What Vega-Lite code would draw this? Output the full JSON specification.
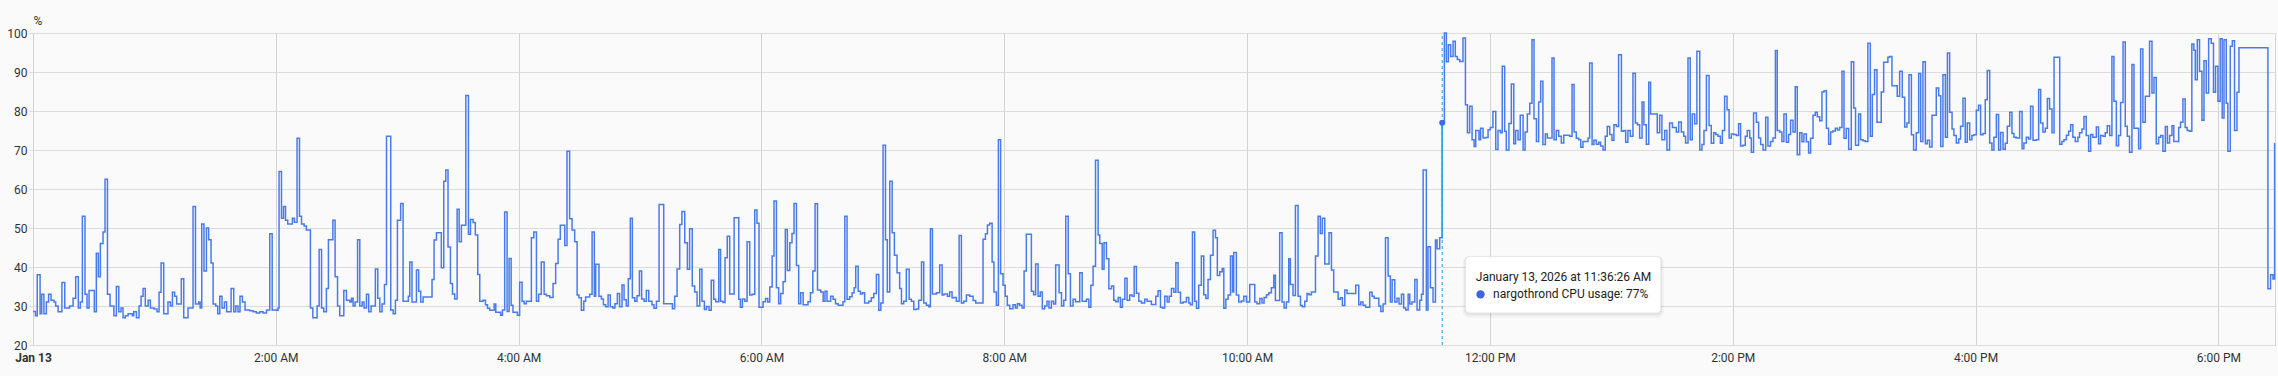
{
"$schema": "https://vega.github.io/schema/vega-lite/v6.json",
"autosize": {"type": "none"},
"padding": {"left": 33, "top": 33, "right": 3, "bottom": 31},
"width": 2242,
"height": 312,
"background": "#fafafa",
"config": {"font": "Roboto", "view": {"stroke": "#d4d4d4"}},
"data": {"values": [
{"t":"2026-01-13T00:00:00","v":28.6},{"t":"2026-01-13T00:01:12","v":27.5},{"t":"2026-01-13T00:02:06","v":38},{"t":"2026-01-13T00:03:30","v":28},{"t":"2026-01-13T00:04:18","v":33},{"t":"2026-01-13T00:05:24","v":28},{"t":"2026-01-13T00:06:36","v":31},{"t":"2026-01-13T00:07:42","v":33},{"t":"2026-01-13T00:08:54","v":31.5},{"t":"2026-01-13T00:10:24","v":31},{"t":"2026-01-13T00:11:12","v":30},{"t":"2026-01-13T00:12:24","v":28.5},{"t":"2026-01-13T00:14:18","v":36},{"t":"2026-01-13T00:15:42","v":29.5},{"t":"2026-01-13T00:18:06","v":30},{"t":"2026-01-13T00:19:48","v":32},{"t":"2026-01-13T00:21:06","v":37.5},{"t":"2026-01-13T00:22:24","v":29.5},{"t":"2026-01-13T00:23:24","v":31},{"t":"2026-01-13T00:24:24","v":53},{"t":"2026-01-13T00:25:42","v":33},{"t":"2026-01-13T00:26:42","v":29.5},{"t":"2026-01-13T00:27:42","v":34},{"t":"2026-01-13T00:30:18","v":28.5},{"t":"2026-01-13T00:31:18","v":43.5},{"t":"2026-01-13T00:32:18","v":37.5},{"t":"2026-01-13T00:33:18","v":46},{"t":"2026-01-13T00:34:36","v":49},{"t":"2026-01-13T00:35:36","v":62.5},{"t":"2026-01-13T00:36:48","v":33},{"t":"2026-01-13T00:38:06","v":30},{"t":"2026-01-13T00:40:00","v":27.5},{"t":"2026-01-13T00:41:12","v":35},{"t":"2026-01-13T00:42:24","v":28.5},{"t":"2026-01-13T00:43:30","v":29.5},{"t":"2026-01-13T00:44:30","v":27},{"t":"2026-01-13T00:45:36","v":27.5},{"t":"2026-01-13T00:47:00","v":28},{"t":"2026-01-13T00:49:06","v":27.5},{"t":"2026-01-13T00:49:48","v":28.5},{"t":"2026-01-13T00:51:06","v":27},{"t":"2026-01-13T00:52:24","v":30},{"t":"2026-01-13T00:53:24","v":32.5},{"t":"2026-01-13T00:54:24","v":34.5},{"t":"2026-01-13T00:55:30","v":30},{"t":"2026-01-13T00:56:54","v":31.5},{"t":"2026-01-13T00:58:00","v":29.5},{"t":"2026-01-13T00:59:48","v":29.2},{"t":"2026-01-13T01:01:18","v":28.5},{"t":"2026-01-13T01:02:18","v":33.5},{"t":"2026-01-13T01:03:18","v":41},{"t":"2026-01-13T01:04:36","v":28},{"t":"2026-01-13T01:06:42","v":31},{"t":"2026-01-13T01:07:54","v":30},{"t":"2026-01-13T01:08:54","v":33.5},{"t":"2026-01-13T01:10:00","v":32.5},{"t":"2026-01-13T01:11:00","v":30.5},{"t":"2026-01-13T01:13:18","v":37},{"t":"2026-01-13T01:14:30","v":27},{"t":"2026-01-13T01:16:36","v":29.5},{"t":"2026-01-13T01:19:06","v":55.5},{"t":"2026-01-13T01:20:18","v":30.5},{"t":"2026-01-13T01:21:54","v":31},{"t":"2026-01-13T01:22:36","v":29.5},{"t":"2026-01-13T01:23:24","v":51},{"t":"2026-01-13T01:24:30","v":39},{"t":"2026-01-13T01:25:42","v":50},{"t":"2026-01-13T01:26:48","v":47},{"t":"2026-01-13T01:28:00","v":41},{"t":"2026-01-13T01:29:00","v":30.5},{"t":"2026-01-13T01:30:18","v":30},{"t":"2026-01-13T01:31:18","v":28},{"t":"2026-01-13T01:32:18","v":32.5},{"t":"2026-01-13T01:33:24","v":29.5},{"t":"2026-01-13T01:34:36","v":31},{"t":"2026-01-13T01:35:42","v":28.5},{"t":"2026-01-13T01:37:54","v":34.5},{"t":"2026-01-13T01:39:12","v":28.5},{"t":"2026-01-13T01:40:12","v":30},{"t":"2026-01-13T01:41:18","v":28.5},{"t":"2026-01-13T01:42:18","v":32.5},{"t":"2026-01-13T01:43:30","v":31},{"t":"2026-01-13T01:44:48","v":29},{"t":"2026-01-13T01:47:06","v":28.8},{"t":"2026-01-13T01:48:48","v":28.5},{"t":"2026-01-13T01:50:24","v":28.2},{"t":"2026-01-13T01:52:06","v":28.5},{"t":"2026-01-13T01:53:42","v":28.2},{"t":"2026-01-13T01:55:24","v":29},{"t":"2026-01-13T01:57:00","v":48.5},{"t":"2026-01-13T01:58:12","v":29},{"t":"2026-01-13T02:00:18","v":28.9},{"t":"2026-01-13T02:01:06","v":29.5},{"t":"2026-01-13T02:01:36","v":64.5},{"t":"2026-01-13T02:02:48","v":52.5},{"t":"2026-01-13T02:03:48","v":55.5},{"t":"2026-01-13T02:04:48","v":52},{"t":"2026-01-13T02:05:54","v":51},{"t":"2026-01-13T02:08:12","v":52.5},{"t":"2026-01-13T02:09:12","v":51.5},{"t":"2026-01-13T02:10:30","v":73},{"t":"2026-01-13T02:11:42","v":53},{"t":"2026-01-13T02:12:42","v":51},{"t":"2026-01-13T02:14:00","v":50.5},{"t":"2026-01-13T02:15:06","v":49.5},{"t":"2026-01-13T02:17:06","v":29.5},{"t":"2026-01-13T02:18:18","v":27},{"t":"2026-01-13T02:20:24","v":30},{"t":"2026-01-13T02:21:24","v":44.5},{"t":"2026-01-13T02:22:36","v":29.5},{"t":"2026-01-13T02:23:42","v":28.5},{"t":"2026-01-13T02:25:00","v":34.5},{"t":"2026-01-13T02:26:00","v":47},{"t":"2026-01-13T02:28:12","v":52},{"t":"2026-01-13T02:29:18","v":37.5},{"t":"2026-01-13T02:30:30","v":30},{"t":"2026-01-13T02:31:36","v":27.5},{"t":"2026-01-13T02:33:36","v":34},{"t":"2026-01-13T02:34:54","v":31.5},{"t":"2026-01-13T02:36:36","v":31},{"t":"2026-01-13T02:37:24","v":32},{"t":"2026-01-13T02:38:12","v":30},{"t":"2026-01-13T02:39:12","v":31},{"t":"2026-01-13T02:40:24","v":47},{"t":"2026-01-13T02:41:30","v":30},{"t":"2026-01-13T02:42:42","v":31},{"t":"2026-01-13T02:43:36","v":29.5},{"t":"2026-01-13T02:44:48","v":33},{"t":"2026-01-13T02:45:54","v":28.5},{"t":"2026-01-13T02:47:06","v":30},{"t":"2026-01-13T02:49:12","v":39.5},{"t":"2026-01-13T02:50:24","v":32},{"t":"2026-01-13T02:51:24","v":28.5},{"t":"2026-01-13T02:52:30","v":30.5},{"t":"2026-01-13T02:53:42","v":35.5},{"t":"2026-01-13T02:54:42","v":73.5},{"t":"2026-01-13T02:56:48","v":29},{"t":"2026-01-13T02:58:00","v":28},{"t":"2026-01-13T02:59:06","v":31.5},{"t":"2026-01-13T03:00:06","v":52},
{"t":"2026-01-13T03:01:42","v":56.3},{"t":"2026-01-13T03:02:54","v":31.2},{"t":"2026-01-13T03:05:30","v":32.5},{"t":"2026-01-13T03:06:12","v":41.3},{"t":"2026-01-13T03:07:18","v":31},{"t":"2026-01-13T03:09:30","v":39.2},{"t":"2026-01-13T03:10:36","v":33.8},{"t":"2026-01-13T03:11:36","v":31},{"t":"2026-01-13T03:12:48","v":32.3},{"t":"2026-01-13T03:17:12","v":36.8},{"t":"2026-01-13T03:18:12","v":46.9},{"t":"2026-01-13T03:19:24","v":48.8},{"t":"2026-01-13T03:21:48","v":39.8},{"t":"2026-01-13T03:23:00","v":62},{"t":"2026-01-13T03:24:00","v":64.9},{"t":"2026-01-13T03:25:06","v":45.1},{"t":"2026-01-13T03:26:18","v":35.8},{"t":"2026-01-13T03:27:18","v":33.1},{"t":"2026-01-13T03:28:24","v":31.8},{"t":"2026-01-13T03:29:36","v":54.8},{"t":"2026-01-13T03:30:36","v":46.5},{"t":"2026-01-13T03:31:42","v":50.7},{"t":"2026-01-13T03:33:54","v":84},{"t":"2026-01-13T03:35:12","v":48.4},{"t":"2026-01-13T03:36:12","v":52.2},{"t":"2026-01-13T03:37:30","v":51.4},{"t":"2026-01-13T03:38:36","v":48.2},{"t":"2026-01-13T03:39:48","v":38.1},{"t":"2026-01-13T03:40:48","v":31.2},{"t":"2026-01-13T03:42:24","v":31.5},{"t":"2026-01-13T03:43:36","v":30.3},{"t":"2026-01-13T03:44:36","v":29.4},{"t":"2026-01-13T03:45:42","v":28.9},{"t":"2026-01-13T03:47:54","v":30.5},{"t":"2026-01-13T03:48:42","v":28.4},{"t":"2026-01-13T03:51:06","v":27.6},{"t":"2026-01-13T03:52:00","v":29},{"t":"2026-01-13T03:53:06","v":54.1},{"t":"2026-01-13T03:54:18","v":28.6},{"t":"2026-01-13T03:55:18","v":42.2},{"t":"2026-01-13T03:56:18","v":30.2},{"t":"2026-01-13T03:57:12","v":28.4},{"t":"2026-01-13T03:59:24","v":27.6},{"t":"2026-01-13T04:00:30","v":36.1},{"t":"2026-01-13T04:01:42","v":31.2},{"t":"2026-01-13T04:02:42","v":30.6},{"t":"2026-01-13T04:03:48","v":31.2},{"t":"2026-01-13T04:06:18","v":47.5},{"t":"2026-01-13T04:07:30","v":49},{"t":"2026-01-13T04:08:48","v":31.2},{"t":"2026-01-13T04:09:54","v":33},{"t":"2026-01-13T04:11:12","v":41.3},{"t":"2026-01-13T04:12:36","v":33},{"t":"2026-01-13T04:13:42","v":32.6},{"t":"2026-01-13T04:15:24","v":32.2},{"t":"2026-01-13T04:17:00","v":35.8},{"t":"2026-01-13T04:18:18","v":40.9},{"t":"2026-01-13T04:19:30","v":47.1},{"t":"2026-01-13T04:20:36","v":50.7},{"t":"2026-01-13T04:22:48","v":45.5},{"t":"2026-01-13T04:23:54","v":69.7},{"t":"2026-01-13T04:25:12","v":52.4},{"t":"2026-01-13T04:26:24","v":49.5},{"t":"2026-01-13T04:27:42","v":46.5},{"t":"2026-01-13T04:28:54","v":32.8},{"t":"2026-01-13T04:29:48","v":32.1},{"t":"2026-01-13T04:31:00","v":28.9},{"t":"2026-01-13T04:32:12","v":31.2},{"t":"2026-01-13T04:33:06","v":32.3},{"t":"2026-01-13T04:35:06","v":33},{"t":"2026-01-13T04:36:18","v":49},{"t":"2026-01-13T04:37:24","v":32.5},{"t":"2026-01-13T04:38:06","v":40.7},{"t":"2026-01-13T04:39:42","v":32.5},{"t":"2026-01-13T04:40:54","v":31.8},{"t":"2026-01-13T04:41:54","v":30.3},{"t":"2026-01-13T04:43:00","v":29.8},{"t":"2026-01-13T04:44:12","v":32.8},{"t":"2026-01-13T04:45:18","v":29.8},{"t":"2026-01-13T04:46:36","v":29.5},{"t":"2026-01-13T04:47:36","v":30.6},{"t":"2026-01-13T04:48:48","v":33.2},{"t":"2026-01-13T04:49:54","v":29.8},{"t":"2026-01-13T04:51:06","v":35.4},{"t":"2026-01-13T04:52:06","v":31.6},{"t":"2026-01-13T04:53:12","v":30},{"t":"2026-01-13T04:54:12","v":37},{"t":"2026-01-13T04:55:12","v":52.5},{"t":"2026-01-13T04:56:12","v":32.1},{"t":"2026-01-13T04:57:24","v":31.2},{"t":"2026-01-13T04:58:30","v":32.6},{"t":"2026-01-13T04:59:42","v":39},{"t":"2026-01-13T05:00:48","v":31.8},{"t":"2026-01-13T05:02:00","v":31.2},{"t":"2026-01-13T05:03:06","v":34},{"t":"2026-01-13T05:04:18","v":31.2},{"t":"2026-01-13T05:05:54","v":30.3},{"t":"2026-01-13T05:06:54","v":29.4},{"t":"2026-01-13T05:08:06","v":31.2},{"t":"2026-01-13T05:09:24","v":56},{"t":"2026-01-13T05:11:42","v":30.6},{"t":"2026-01-13T05:16:00","v":29.3},{"t":"2026-01-13T05:17:06","v":32.5},{"t":"2026-01-13T05:18:18","v":39.5},{"t":"2026-01-13T05:19:36","v":50.9},{"t":"2026-01-13T05:20:42","v":54.2},{"t":"2026-01-13T05:22:06","v":46.2},{"t":"2026-01-13T05:23:24","v":39.4},{"t":"2026-01-13T05:24:30","v":49.8},{"t":"2026-01-13T05:25:48","v":35.1},{"t":"2026-01-13T05:27:00","v":33.6},{"t":"2026-01-13T05:28:12","v":30},{"t":"2026-01-13T05:29:30","v":39.4},{"t":"2026-01-13T05:30:36","v":31.2},{"t":"2026-01-13T05:31:48","v":29.1},{"t":"2026-01-13T05:32:48","v":29.9},{"t":"2026-01-13T05:34:06","v":28.9},{"t":"2026-01-13T05:35:12","v":36.6},{"t":"2026-01-13T05:36:24","v":31.7},{"t":"2026-01-13T05:37:24","v":31.1},{"t":"2026-01-13T05:38:54","v":44.5},{"t":"2026-01-13T05:39:48","v":31.2},{"t":"2026-01-13T05:41:00","v":30.9},{"t":"2026-01-13T05:42:00","v":42.4},{"t":"2026-01-13T05:43:06","v":47.9},
{"t":"2026-01-13T05:44:18","v":33.1},{"t":"2026-01-13T05:46:30","v":52.6},{"t":"2026-01-13T05:48:48","v":31.7},{"t":"2026-01-13T05:49:36","v":29.7},{"t":"2026-01-13T05:50:36","v":31.8},{"t":"2026-01-13T05:51:48","v":31.2},{"t":"2026-01-13T05:52:54","v":46.5},{"t":"2026-01-13T05:54:12","v":32.8},{"t":"2026-01-13T05:55:24","v":33},{"t":"2026-01-13T05:56:42","v":54.6},{"t":"2026-01-13T05:57:48","v":51.2},{"t":"2026-01-13T05:58:48","v":29.7},{"t":"2026-01-13T06:00:48","v":31.1},{"t":"2026-01-13T06:02:00","v":31.9},{"t":"2026-01-13T06:03:06","v":31},{"t":"2026-01-13T06:04:06","v":34.9},{"t":"2026-01-13T06:05:18","v":42.8},{"t":"2026-01-13T06:06:12","v":56.9},{"t":"2026-01-13T06:07:24","v":34.7},{"t":"2026-01-13T06:08:30","v":30.6},{"t":"2026-01-13T06:09:30","v":33.2},{"t":"2026-01-13T06:10:42","v":36.2},{"t":"2026-01-13T06:11:48","v":49.6},{"t":"2026-01-13T06:12:48","v":39.1},{"t":"2026-01-13T06:14:00","v":46.2},{"t":"2026-01-13T06:15:06","v":48.6},{"t":"2026-01-13T06:16:06","v":56.3},{"t":"2026-01-13T06:17:18","v":40.4},{"t":"2026-01-13T06:18:24","v":30.6},{"t":"2026-01-13T06:19:24","v":33.4},{"t":"2026-01-13T06:20:36","v":30.3},{"t":"2026-01-13T06:23:00","v":31.1},{"t":"2026-01-13T06:24:12","v":33.4},{"t":"2026-01-13T06:25:24","v":39},{"t":"2026-01-13T06:26:30","v":56.2},{"t":"2026-01-13T06:27:42","v":34.1},{"t":"2026-01-13T06:29:18","v":33.6},{"t":"2026-01-13T06:30:30","v":31.2},{"t":"2026-01-13T06:31:24","v":33.8},{"t":"2026-01-13T06:32:24","v":31.2},{"t":"2026-01-13T06:34:12","v":32.5},{"t":"2026-01-13T06:35:24","v":31.7},{"t":"2026-01-13T06:36:36","v":30.6},{"t":"2026-01-13T06:37:54","v":30.2},{"t":"2026-01-13T06:40:18","v":31.1},{"t":"2026-01-13T06:41:12","v":53},{"t":"2026-01-13T06:42:18","v":31.7},{"t":"2026-01-13T06:43:36","v":32.4},{"t":"2026-01-13T06:44:48","v":33.4},{"t":"2026-01-13T06:45:48","v":34.7},{"t":"2026-01-13T06:46:36","v":40.2},{"t":"2026-01-13T06:47:48","v":33.8},{"t":"2026-01-13T06:48:54","v":33.1},{"t":"2026-01-13T06:49:54","v":33.4},{"t":"2026-01-13T06:51:00","v":30.8},{"t":"2026-01-13T06:53:00","v":31.2},{"t":"2026-01-13T06:54:18","v":32.1},{"t":"2026-01-13T06:55:30","v":33.2},{"t":"2026-01-13T06:56:48","v":38.1},{"t":"2026-01-13T06:58:00","v":28.9},{"t":"2026-01-13T06:59:00","v":30.8},{"t":"2026-01-13T07:00:06","v":71.2},{"t":"2026-01-13T07:01:18","v":47},{"t":"2026-01-13T07:02:12","v":33.6},{"t":"2026-01-13T07:03:24","v":62},{"t":"2026-01-13T07:04:36","v":48.8},{"t":"2026-01-13T07:05:42","v":43},{"t":"2026-01-13T07:07:00","v":38.5},{"t":"2026-01-13T07:08:18","v":34.5},{"t":"2026-01-13T07:09:12","v":30.6},{"t":"2026-01-13T07:10:18","v":31.2},{"t":"2026-01-13T07:11:36","v":39.4},{"t":"2026-01-13T07:13:00","v":31.7},{"t":"2026-01-13T07:14:06","v":31.2},{"t":"2026-01-13T07:15:18","v":29.1},{"t":"2026-01-13T07:16:36","v":29.2},{"t":"2026-01-13T07:17:42","v":31.5},{"t":"2026-01-13T07:19:06","v":41.3},{"t":"2026-01-13T07:20:12","v":30.8},{"t":"2026-01-13T07:21:30","v":30.2},{"t":"2026-01-13T07:22:42","v":29.8},{"t":"2026-01-13T07:23:30","v":49.8},{"t":"2026-01-13T07:24:30","v":33.1},{"t":"2026-01-13T07:26:30","v":33.4},{"t":"2026-01-13T07:28:06","v":40.5},{"t":"2026-01-13T07:29:18","v":32.8},{"t":"2026-01-13T07:30:12","v":33.1},{"t":"2026-01-13T07:31:54","v":32.5},{"t":"2026-01-13T07:33:00","v":33.6},{"t":"2026-01-13T07:34:12","v":32.1},{"t":"2026-01-13T07:35:12","v":32.2},{"t":"2026-01-13T07:36:18","v":31.2},{"t":"2026-01-13T07:37:42","v":48.1},{"t":"2026-01-13T07:38:48","v":30.8},{"t":"2026-01-13T07:40:00","v":31.2},{"t":"2026-01-13T07:41:18","v":32.8},{"t":"2026-01-13T07:42:54","v":32.5},{"t":"2026-01-13T07:44:36","v":31.4},{"t":"2026-01-13T07:45:54","v":30.8},{"t":"2026-01-13T07:49:30","v":47.1},{"t":"2026-01-13T07:50:42","v":48.5},{"t":"2026-01-13T07:51:42","v":50.8},{"t":"2026-01-13T07:52:48","v":51.2},{"t":"2026-01-13T07:54:00","v":41.3},{"t":"2026-01-13T07:54:54","v":33.6},{"t":"2026-01-13T07:56:06","v":30.2},{"t":"2026-01-13T07:57:06","v":72.6},{"t":"2026-01-13T07:58:12","v":38.3},{"t":"2026-01-13T07:59:24","v":35.3},{"t":"2026-01-13T08:00:30","v":32.5},{"t":"2026-01-13T08:01:30","v":30.2},{"t":"2026-01-13T08:02:42","v":29.3},{"t":"2026-01-13T08:04:18","v":30.3},{"t":"2026-01-13T08:05:30","v":29.5},{"t":"2026-01-13T08:06:30","v":30.6},{"t":"2026-01-13T08:07:36","v":30.2},{"t":"2026-01-13T08:08:48","v":29.5},{"t":"2026-01-13T08:09:48","v":39},{"t":"2026-01-13T08:10:54","v":48.4},{"t":"2026-01-13T08:13:24","v":33.8},{"t":"2026-01-13T08:14:30","v":32.9},{"t":"2026-01-13T08:15:30","v":40.8},{"t":"2026-01-13T08:16:42","v":32.5},{"t":"2026-01-13T08:17:48","v":33.6},{"t":"2026-01-13T08:18:48","v":29.3},{"t":"2026-01-13T08:20:00","v":30},{"t":"2026-01-13T08:21:06","v":31.2},{"t":"2026-01-13T08:22:06","v":29.5},{"t":"2026-01-13T08:23:18","v":31.2},{"t":"2026-01-13T08:24:24","v":30.5},{"t":"2026-01-13T08:25:24","v":40.5},
{"t":"2026-01-13T08:27:06","v":33.4},{"t":"2026-01-13T08:28:18","v":30},{"t":"2026-01-13T08:29:24","v":31.5},{"t":"2026-01-13T08:30:24","v":53},{"t":"2026-01-13T08:31:36","v":38.3},{"t":"2026-01-13T08:32:42","v":30},{"t":"2026-01-13T08:34:00","v":31.7},{"t":"2026-01-13T08:35:12","v":31.1},{"t":"2026-01-13T08:37:18","v":38.5},{"t":"2026-01-13T08:38:30","v":31.2},{"t":"2026-01-13T08:40:36","v":31.7},{"t":"2026-01-13T08:41:48","v":29.7},{"t":"2026-01-13T08:42:48","v":35.3},{"t":"2026-01-13T08:43:54","v":40.2},{"t":"2026-01-13T08:45:06","v":67.4},{"t":"2026-01-13T08:46:24","v":48.2},{"t":"2026-01-13T08:47:12","v":46},{"t":"2026-01-13T08:48:24","v":39.4},{"t":"2026-01-13T08:49:18","v":46.2},{"t":"2026-01-13T08:50:30","v":42.1},{"t":"2026-01-13T08:51:42","v":34.4},{"t":"2026-01-13T08:53:00","v":35.1},{"t":"2026-01-13T08:54:06","v":31.5},{"t":"2026-01-13T08:55:06","v":31.1},{"t":"2026-01-13T08:56:18","v":32.2},{"t":"2026-01-13T08:57:24","v":29.7},{"t":"2026-01-13T08:58:24","v":31.7},{"t":"2026-01-13T08:59:36","v":37.1},{"t":"2026-01-13T09:00:42","v":31.5},{"t":"2026-01-13T09:02:00","v":32.8},{"t":"2026-01-13T09:03:12","v":32.5},{"t":"2026-01-13T09:04:12","v":40.1},{"t":"2026-01-13T09:05:18","v":33.3},{"t":"2026-01-13T09:06:30","v":31.2},{"t":"2026-01-13T09:07:48","v":30.8},{"t":"2026-01-13T09:09:24","v":31.7},{"t":"2026-01-13T09:10:36","v":31.2},{"t":"2026-01-13T09:12:42","v":30.4},{"t":"2026-01-13T09:14:54","v":32.5},{"t":"2026-01-13T09:16:00","v":33.9},{"t":"2026-01-13T09:17:12","v":29.7},{"t":"2026-01-13T09:18:12","v":29.5},{"t":"2026-01-13T09:19:18","v":32.5},{"t":"2026-01-13T09:20:30","v":31},{"t":"2026-01-13T09:21:30","v":32.5},{"t":"2026-01-13T09:22:36","v":34.5},{"t":"2026-01-13T09:23:48","v":33.5},{"t":"2026-01-13T09:24:48","v":41.1},{"t":"2026-01-13T09:25:54","v":33.5},{"t":"2026-01-13T09:27:06","v":30.8},{"t":"2026-01-13T09:28:24","v":31},{"t":"2026-01-13T09:30:00","v":32.2},{"t":"2026-01-13T09:31:12","v":30.8},{"t":"2026-01-13T09:32:00","v":30.3},{"t":"2026-01-13T09:33:00","v":49},{"t":"2026-01-13T09:34:06","v":31.2},{"t":"2026-01-13T09:35:00","v":29.4},{"t":"2026-01-13T09:36:06","v":35.3},{"t":"2026-01-13T09:37:24","v":42.8},{"t":"2026-01-13T09:38:36","v":32.9},{"t":"2026-01-13T09:39:36","v":31.9},{"t":"2026-01-13T09:40:42","v":36.8},{"t":"2026-01-13T09:41:54","v":43},{"t":"2026-01-13T09:43:12","v":49.4},{"t":"2026-01-13T09:44:24","v":47.5},{"t":"2026-01-13T09:45:18","v":37.8},{"t":"2026-01-13T09:46:30","v":38.8},{"t":"2026-01-13T09:47:42","v":39.6},{"t":"2026-01-13T09:48:30","v":29.4},{"t":"2026-01-13T09:49:30","v":31.7},{"t":"2026-01-13T09:50:36","v":32.8},{"t":"2026-01-13T09:51:48","v":42.8},{"t":"2026-01-13T09:52:48","v":33.6},{"t":"2026-01-13T09:53:24","v":43.7},{"t":"2026-01-13T09:54:42","v":32.8},{"t":"2026-01-13T09:55:54","v":31},{"t":"2026-01-13T09:57:12","v":31.3},{"t":"2026-01-13T09:58:24","v":32.5},{"t":"2026-01-13T09:59:42","v":31},{"t":"2026-01-13T10:01:18","v":35.5},{"t":"2026-01-13T10:03:48","v":31},{"t":"2026-01-13T10:04:54","v":30.6},{"t":"2026-01-13T10:06:18","v":31.9},{"t":"2026-01-13T10:07:24","v":30.8},{"t":"2026-01-13T10:08:24","v":32.2},{"t":"2026-01-13T10:09:36","v":32.9},{"t":"2026-01-13T10:10:42","v":33.4},{"t":"2026-01-13T10:12:00","v":34.7},{"t":"2026-01-13T10:13:12","v":37.9},{"t":"2026-01-13T10:14:00","v":31.4},{"t":"2026-01-13T10:16:06","v":48.8},{"t":"2026-01-13T10:17:18","v":31},{"t":"2026-01-13T10:18:18","v":29.5},{"t":"2026-01-13T10:19:24","v":31},{"t":"2026-01-13T10:20:36","v":42.1},{"t":"2026-01-13T10:21:24","v":35.5},{"t":"2026-01-13T10:22:42","v":32.7},{"t":"2026-01-13T10:23:54","v":55.8},{"t":"2026-01-13T10:25:12","v":32.5},{"t":"2026-01-13T10:26:24","v":30.1},{"t":"2026-01-13T10:27:18","v":29.8},{"t":"2026-01-13T10:28:30","v":31.2},{"t":"2026-01-13T10:29:36","v":33.2},{"t":"2026-01-13T10:30:36","v":32.9},{"t":"2026-01-13T10:31:48","v":33.6},{"t":"2026-01-13T10:33:48","v":42.8},{"t":"2026-01-13T10:35:06","v":53},{"t":"2026-01-13T10:36:12","v":48.6},{"t":"2026-01-13T10:37:12","v":52.5},{"t":"2026-01-13T10:38:24","v":40.8},{"t":"2026-01-13T10:40:30","v":48.8},{"t":"2026-01-13T10:41:42","v":39.2},{"t":"2026-01-13T10:42:48","v":33.6},{"t":"2026-01-13T10:45:00","v":31.7},{"t":"2026-01-13T10:46:06","v":32.1},{"t":"2026-01-13T10:47:06","v":30.1},{"t":"2026-01-13T10:48:18","v":34.1},{"t":"2026-01-13T10:49:24","v":33.2},{"t":"2026-01-13T10:53:42","v":35.3},{"t":"2026-01-13T10:55:12","v":30.3},{"t":"2026-01-13T10:56:12","v":31},{"t":"2026-01-13T10:57:18","v":30.2},{"t":"2026-01-13T10:58:36","v":29.7},{"t":"2026-01-13T11:00:36","v":33.5},{"t":"2026-01-13T11:01:48","v":32.5},{"t":"2026-01-13T11:02:48","v":32},{"t":"2026-01-13T11:05:06","v":30},{"t":"2026-01-13T11:06:06","v":28.6},{"t":"2026-01-13T11:07:12","v":30.5},{"t":"2026-01-13T11:08:24","v":47.5},{"t":"2026-01-13T11:09:42","v":37.7},{"t":"2026-01-13T11:10:48","v":31},{"t":"2026-01-13T11:11:42","v":36.7},{"t":"2026-01-13T11:13:00","v":31},{"t":"2026-01-13T11:14:06","v":32},{"t":"2026-01-13T11:15:06","v":30.5},{"t":"2026-01-13T11:16:18","v":33},{"t":"2026-01-13T11:17:24","v":29.5},{"t":"2026-01-13T11:18:24","v":29},{"t":"2026-01-13T11:19:36","v":33},{"t":"2026-01-13T11:20:24","v":30.5},{"t":"2026-01-13T11:21:30","v":31},{"t":"2026-01-13T11:22:54","v":36.8},{"t":"2026-01-13T11:24:00","v":29},{"t":"2026-01-13T11:25:18","v":31.5},{"t":"2026-01-13T11:26:12","v":33},{"t":"2026-01-13T11:27:00","v":64.9},{"t":"2026-01-13T11:28:36","v":29},{"t":"2026-01-13T11:29:24","v":45.2},{"t":"2026-01-13T11:30:36","v":34.7},{"t":"2026-01-13T11:31:54","v":31},{"t":"2026-01-13T11:33:06","v":46.9},{"t":"2026-01-13T11:33:54","v":44.7},{"t":"2026-01-13T11:35:12","v":47.5},{"t":"2026-01-13T11:36:26","v":77},
{"t":"2026-01-13T11:37:30","v":100},{"t":"2026-01-13T11:38:30","v":92.6},{"t":"2026-01-13T11:39:30","v":97},{"t":"2026-01-13T11:40:36","v":94},{"t":"2026-01-13T11:41:48","v":97.9},{"t":"2026-01-13T11:42:54","v":94},{"t":"2026-01-13T11:43:54","v":93.2},{"t":"2026-01-13T11:45:06","v":92.7},{"t":"2026-01-13T11:46:42","v":98.7},{"t":"2026-01-13T11:47:54","v":81.6},{"t":"2026-01-13T11:48:54","v":74.4},{"t":"2026-01-13T11:50:00","v":81.2},{"t":"2026-01-13T11:51:12","v":72.6},{"t":"2026-01-13T11:52:12","v":70.9},{"t":"2026-01-13T11:53:00","v":75},{"t":"2026-01-13T11:54:36","v":72.6},{"t":"2026-01-13T11:55:24","v":75.6},{"t":"2026-01-13T11:56:36","v":73.1},{"t":"2026-01-13T11:57:48","v":73.2},{"t":"2026-01-13T11:59:06","v":75.2},{"t":"2026-01-13T12:00:12","v":75.8},{"t":"2026-01-13T12:01:30","v":79.9},{"t":"2026-01-13T12:02:54","v":70.1},{"t":"2026-01-13T12:04:00","v":75},{"t":"2026-01-13T12:05:12","v":74.4},{"t":"2026-01-13T12:06:06","v":91.5},{"t":"2026-01-13T12:07:18","v":74.8},{"t":"2026-01-13T12:08:06","v":70},{"t":"2026-01-13T12:09:24","v":76.8},{"t":"2026-01-13T12:10:36","v":86.9},{"t":"2026-01-13T12:11:48","v":71.6},{"t":"2026-01-13T12:12:42","v":75},{"t":"2026-01-13T12:13:54","v":72.6},{"t":"2026-01-13T12:15:00","v":78.9},{"t":"2026-01-13T12:16:24","v":70},{"t":"2026-01-13T12:17:24","v":74.6},{"t":"2026-01-13T12:18:30","v":79.2},{"t":"2026-01-13T12:19:42","v":82},{"t":"2026-01-13T12:20:48","v":98.3},{"t":"2026-01-13T12:21:48","v":78},{"t":"2026-01-13T12:23:00","v":72.2},{"t":"2026-01-13T12:24:06","v":82.3},{"t":"2026-01-13T12:25:06","v":87.6},{"t":"2026-01-13T12:26:12","v":71.4},{"t":"2026-01-13T12:27:24","v":74.1},{"t":"2026-01-13T12:28:24","v":73.1},{"t":"2026-01-13T12:30:42","v":93.6},{"t":"2026-01-13T12:31:42","v":72.6},{"t":"2026-01-13T12:32:48","v":75},{"t":"2026-01-13T12:34:00","v":73.5},{"t":"2026-01-13T12:35:18","v":71.8},{"t":"2026-01-13T12:36:30","v":73.8},{"t":"2026-01-13T12:39:24","v":73.5},{"t":"2026-01-13T12:40:36","v":86.8},{"t":"2026-01-13T12:41:36","v":74.6},{"t":"2026-01-13T12:42:42","v":73},{"t":"2026-01-13T12:43:54","v":72.6},{"t":"2026-01-13T12:44:54","v":70.7},{"t":"2026-01-13T12:46:00","v":72.2},{"t":"2026-01-13T12:48:30","v":73.1},{"t":"2026-01-13T12:49:18","v":92.3},{"t":"2026-01-13T12:50:30","v":71.4},{"t":"2026-01-13T12:51:24","v":72.5},{"t":"2026-01-13T12:52:36","v":71.5},{"t":"2026-01-13T12:53:48","v":72},{"t":"2026-01-13T12:54:42","v":71},{"t":"2026-01-13T12:55:54","v":70},{"t":"2026-01-13T12:57:00","v":73.5},{"t":"2026-01-13T12:58:00","v":76},{"t":"2026-01-13T12:59:12","v":74},{"t":"2026-01-13T13:00:18","v":72.5},{"t":"2026-01-13T13:01:18","v":76.5},{"t":"2026-01-13T13:02:30","v":76},{"t":"2026-01-13T13:03:36","v":94.4},{"t":"2026-01-13T13:05:00","v":74.8},{"t":"2026-01-13T13:06:06","v":75},{"t":"2026-01-13T13:07:06","v":72},{"t":"2026-01-13T13:08:12","v":75},{"t":"2026-01-13T13:09:24","v":73.5},{"t":"2026-01-13T13:10:42","v":89.7},{"t":"2026-01-13T13:11:54","v":76.9},{"t":"2026-01-13T13:12:54","v":76.5},{"t":"2026-01-13T13:14:00","v":73.1},{"t":"2026-01-13T13:15:12","v":82.3},{"t":"2026-01-13T13:16:06","v":76.5},{"t":"2026-01-13T13:17:18","v":71.5},{"t":"2026-01-13T13:18:30","v":87.4},{"t":"2026-01-13T13:19:24","v":79.2},{"t":"2026-01-13T13:22:42","v":74.4},{"t":"2026-01-13T13:23:54","v":78.9},{"t":"2026-01-13T13:25:00","v":72.6},{"t":"2026-01-13T13:26:24","v":75},
{"t":"2026-01-13T13:27:30","v":70},{"t":"2026-01-13T13:28:48","v":76.9},{"t":"2026-01-13T13:30:12","v":75.8},{"t":"2026-01-13T13:32:06","v":74.6},{"t":"2026-01-13T13:33:18","v":77.2},{"t":"2026-01-13T13:34:36","v":74.6},{"t":"2026-01-13T13:35:48","v":73.5},{"t":"2026-01-13T13:36:42","v":71.8},{"t":"2026-01-13T13:37:54","v":93.6},{"t":"2026-01-13T13:39:00","v":72.6},{"t":"2026-01-13T13:40:00","v":79.2},{"t":"2026-01-13T13:41:12","v":76.7},{"t":"2026-01-13T13:42:18","v":95.3},{"t":"2026-01-13T13:43:42","v":70},{"t":"2026-01-13T13:44:48","v":71.4},{"t":"2026-01-13T13:45:48","v":75},{"t":"2026-01-13T13:47:00","v":89.1},{"t":"2026-01-13T13:48:18","v":76.3},{"t":"2026-01-13T13:49:24","v":71.7},{"t":"2026-01-13T13:50:36","v":74.4},{"t":"2026-01-13T13:51:36","v":74},{"t":"2026-01-13T13:52:42","v":73.5},{"t":"2026-01-13T13:53:54","v":71.7},{"t":"2026-01-13T13:54:54","v":75},{"t":"2026-01-13T13:56:00","v":83.8},{"t":"2026-01-13T13:57:12","v":80.3},{"t":"2026-01-13T13:58:12","v":73.1},{"t":"2026-01-13T13:59:18","v":74.1},{"t":"2026-01-13T14:00:30","v":74},{"t":"2026-01-13T14:01:48","v":73.7},{"t":"2026-01-13T14:02:54","v":76.7},{"t":"2026-01-13T14:03:54","v":71},{"t":"2026-01-13T14:05:06","v":71.2},{"t":"2026-01-13T14:06:12","v":73.5},{"t":"2026-01-13T14:07:12","v":75},{"t":"2026-01-13T14:08:24","v":73.1},{"t":"2026-01-13T14:09:12","v":69.4},{"t":"2026-01-13T14:10:18","v":79.5},{"t":"2026-01-13T14:11:42","v":77.1},{"t":"2026-01-13T14:12:48","v":73.1},{"t":"2026-01-13T14:13:48","v":71.4},{"t":"2026-01-13T14:15:00","v":70},{"t":"2026-01-13T14:16:18","v":78.4},{"t":"2026-01-13T14:17:24","v":71},{"t":"2026-01-13T14:18:42","v":72.2},{"t":"2026-01-13T14:19:54","v":73.1},{"t":"2026-01-13T14:21:06","v":95.5},{"t":"2026-01-13T14:22:00","v":75},{"t":"2026-01-13T14:23:12","v":74.6},{"t":"2026-01-13T14:24:18","v":72.2},{"t":"2026-01-13T14:25:18","v":79.2},{"t":"2026-01-13T14:26:30","v":72},{"t":"2026-01-13T14:27:36","v":74},{"t":"2026-01-13T14:28:36","v":77.6},{"t":"2026-01-13T14:29:48","v":74.6},{"t":"2026-01-13T14:30:54","v":86.2},{"t":"2026-01-13T14:31:54","v":68.8},{"t":"2026-01-13T14:33:06","v":74.4},{"t":"2026-01-13T14:34:12","v":72.1},{"t":"2026-01-13T14:35:12","v":74.1},{"t":"2026-01-13T14:36:24","v":72.1},{"t":"2026-01-13T14:37:30","v":69.2},{"t":"2026-01-13T14:38:30","v":73},{"t":"2026-01-13T14:39:42","v":78.9},{"t":"2026-01-13T14:40:48","v":79.7},{"t":"2026-01-13T14:41:48","v":78.5},{"t":"2026-01-13T14:43:00","v":77.5},{"t":"2026-01-13T14:44:06","v":84.9},{"t":"2026-01-13T14:45:06","v":85.2},{"t":"2026-01-13T14:46:18","v":75.6},{"t":"2026-01-13T14:47:24","v":71.5},{"t":"2026-01-13T14:48:24","v":74.6},{"t":"2026-01-13T14:49:30","v":74.9},{"t":"2026-01-13T14:50:42","v":75.6},{"t":"2026-01-13T14:51:42","v":75.1},{"t":"2026-01-13T14:52:48","v":75.8},{"t":"2026-01-13T14:54:00","v":90.2},{"t":"2026-01-13T14:55:00","v":73},{"t":"2026-01-13T14:56:06","v":75.5},{"t":"2026-01-13T14:57:18","v":70.2},{"t":"2026-01-13T14:58:36","v":92.6},{"t":"2026-01-13T14:59:48","v":80.8},{"t":"2026-01-13T15:00:42","v":71.2},{"t":"2026-01-13T15:02:12","v":79.2},{"t":"2026-01-13T15:03:12","v":72.6},{"t":"2026-01-13T15:04:24","v":72.4},{"t":"2026-01-13T15:05:30","v":72.2},{"t":"2026-01-13T15:06:48","v":97.4},{"t":"2026-01-13T15:08:00","v":73.5},{"t":"2026-01-13T15:09:00","v":84.2},{"t":"2026-01-13T15:10:06","v":90.6},{"t":"2026-01-13T15:11:18","v":77.1},{"t":"2026-01-13T15:13:24","v":84.9},{"t":"2026-01-13T15:14:36","v":92.5},{"t":"2026-01-13T15:16:42","v":93.8},{"t":"2026-01-13T15:17:30","v":94},{"t":"2026-01-13T15:18:42","v":86.5},{"t":"2026-01-13T15:21:18","v":83.8},{"t":"2026-01-13T15:22:30","v":90.2},
{"t":"2026-01-13T15:23:48","v":83.5},{"t":"2026-01-13T15:25:00","v":75.9},{"t":"2026-01-13T15:26:06","v":76.9},{"t":"2026-01-13T15:27:06","v":89.3},{"t":"2026-01-13T15:28:18","v":73.9},{"t":"2026-01-13T15:29:24","v":70},{"t":"2026-01-13T15:30:42","v":74.4},{"t":"2026-01-13T15:31:54","v":89.6},{"t":"2026-01-13T15:32:54","v":72.2},{"t":"2026-01-13T15:34:00","v":92.6},{"t":"2026-01-13T15:35:12","v":71.6},{"t":"2026-01-13T15:36:12","v":72.5},{"t":"2026-01-13T15:37:18","v":70.8},{"t":"2026-01-13T15:38:30","v":78.9},{"t":"2026-01-13T15:40:36","v":85.9},{"t":"2026-01-13T15:41:48","v":83.9},{"t":"2026-01-13T15:42:48","v":70.9},{"t":"2026-01-13T15:43:54","v":89.3},{"t":"2026-01-13T15:45:06","v":73.3},{"t":"2026-01-13T15:46:06","v":94.9},{"t":"2026-01-13T15:47:12","v":79.7},{"t":"2026-01-13T15:48:24","v":75.4},{"t":"2026-01-13T15:49:18","v":73.7},{"t":"2026-01-13T15:50:30","v":71.8},{"t":"2026-01-13T15:51:42","v":72.8},{"t":"2026-01-13T15:52:36","v":76.1},{"t":"2026-01-13T15:53:48","v":83.3},{"t":"2026-01-13T15:54:54","v":72},{"t":"2026-01-13T15:55:54","v":76.9},{"t":"2026-01-13T15:57:06","v":72.6},{"t":"2026-01-13T15:58:12","v":73.7},{"t":"2026-01-13T15:59:12","v":73.9},{"t":"2026-01-13T16:00:24","v":80.2},{"t":"2026-01-13T16:01:30","v":81.5},{"t":"2026-01-13T16:02:30","v":73.9},{"t":"2026-01-13T16:03:42","v":74.2},{"t":"2026-01-13T16:04:48","v":82.9},{"t":"2026-01-13T16:05:48","v":90.4},{"t":"2026-01-13T16:07:00","v":71.8},{"t":"2026-01-13T16:08:06","v":70},{"t":"2026-01-13T16:09:06","v":73.3},{"t":"2026-01-13T16:10:18","v":79.1},{"t":"2026-01-13T16:11:24","v":70},{"t":"2026-01-13T16:12:24","v":74.5},{"t":"2026-01-13T16:13:36","v":70.2},{"t":"2026-01-13T16:14:42","v":71.7},{"t":"2026-01-13T16:15:42","v":76.1},{"t":"2026-01-13T16:16:54","v":79.7},{"t":"2026-01-13T16:18:00","v":74.2},{"t":"2026-01-13T16:19:00","v":73.3},{"t":"2026-01-13T16:20:06","v":73.1},{"t":"2026-01-13T16:21:48","v":79.9},{"t":"2026-01-13T16:23:00","v":70.3},{"t":"2026-01-13T16:23:54","v":71.8},{"t":"2026-01-13T16:25:06","v":73.3},{"t":"2026-01-13T16:26:12","v":72.8},{"t":"2026-01-13T16:27:12","v":81.2},{"t":"2026-01-13T16:28:24","v":72.5},{"t":"2026-01-13T16:30:00","v":72.6},{"t":"2026-01-13T16:31:12","v":85.5},{"t":"2026-01-13T16:32:12","v":76.9},{"t":"2026-01-13T16:33:18","v":74.6},{"t":"2026-01-13T16:34:30","v":75.6},{"t":"2026-01-13T16:35:30","v":83.2},{"t":"2026-01-13T16:36:36","v":80.5},{"t":"2026-01-13T16:37:48","v":74.4},{"t":"2026-01-13T16:38:48","v":93.8},{"t":"2026-01-13T16:41:36","v":71.5},{"t":"2026-01-13T16:42:42","v":72.2},{"t":"2026-01-13T16:43:42","v":72.6},{"t":"2026-01-13T16:44:54","v":73.8},{"t":"2026-01-13T16:46:00","v":74.8},{"t":"2026-01-13T16:47:00","v":76.5},{"t":"2026-01-13T16:48:06","v":73.3},{"t":"2026-01-13T16:49:18","v":72.2},{"t":"2026-01-13T16:50:36","v":73.3},{"t":"2026-01-13T16:51:24","v":74.4},{"t":"2026-01-13T16:52:36","v":75.4},{"t":"2026-01-13T16:53:36","v":78.6},{"t":"2026-01-13T16:54:42","v":73.7},{"t":"2026-01-13T16:55:54","v":69.7},{"t":"2026-01-13T16:56:54","v":74},{"t":"2026-01-13T16:58:00","v":73.3},{"t":"2026-01-13T16:59:42","v":75.9},{"t":"2026-01-13T17:00:48","v":71.6},{"t":"2026-01-13T17:01:48","v":73.7},{"t":"2026-01-13T17:03:00","v":73.5},{"t":"2026-01-13T17:04:06","v":74.4},{"t":"2026-01-13T17:05:06","v":76.2},{"t":"2026-01-13T17:06:18","v":73.7},{"t":"2026-01-13T17:07:24","v":94},{"t":"2026-01-13T17:08:24","v":82.5},{"t":"2026-01-13T17:09:36","v":71.1},{"t":"2026-01-13T17:10:42","v":73.7},{"t":"2026-01-13T17:11:42","v":82.2},{"t":"2026-01-13T17:12:54","v":97.7},{"t":"2026-01-13T17:14:00","v":76.1},{"t":"2026-01-13T17:15:00","v":73.5},{"t":"2026-01-13T17:16:06","v":69.4},{"t":"2026-01-13T17:17:18","v":91.9},{"t":"2026-01-13T17:18:18","v":75.6},{"t":"2026-01-13T17:20:36","v":70.3},{"t":"2026-01-13T17:21:36","v":95.9},{"t":"2026-01-13T17:22:42","v":77.1},{"t":"2026-01-13T17:23:54","v":83.8},{"t":"2026-01-13T17:26:00","v":97.9},{"t":"2026-01-13T17:27:12","v":84.6},{"t":"2026-01-13T17:28:12","v":88.6},{"t":"2026-01-13T17:29:18","v":71.6},{"t":"2026-01-13T17:30:30","v":73.3},{"t":"2026-01-13T17:31:30","v":73.7},{"t":"2026-01-13T17:32:36","v":69.7},{"t":"2026-01-13T17:33:48","v":76},{"t":"2026-01-13T17:34:48","v":71.8},{"t":"2026-01-13T17:35:54","v":73.7},{"t":"2026-01-13T17:37:06","v":76.2},{"t":"2026-01-13T17:38:00","v":72.2},{"t":"2026-01-13T17:40:24","v":75.8},{"t":"2026-01-13T17:41:18","v":77.1},{"t":"2026-01-13T17:42:30","v":83.1},{"t":"2026-01-13T17:43:36","v":75.8},{"t":"2026-01-13T17:44:36","v":75},{"t":"2026-01-13T17:45:48","v":74.8},{"t":"2026-01-13T17:46:54","v":97.2},{"t":"2026-01-13T17:47:54","v":95.6},{"t":"2026-01-13T17:48:36","v":88},{"t":"2026-01-13T17:49:36","v":98.3},{"t":"2026-01-13T17:50:42","v":90.2},{"t":"2026-01-13T17:51:54","v":77.6},{"t":"2026-01-13T17:52:54","v":92.9},{"t":"2026-01-13T17:54:00","v":84.6},{"t":"2026-01-13T17:55:12","v":98.5},{"t":"2026-01-13T17:56:30","v":97.4},{"t":"2026-01-13T17:57:36","v":84.8},{"t":"2026-01-13T17:58:36","v":91.5},{"t":"2026-01-13T17:59:48","v":82.5},{"t":"2026-01-13T18:00:54","v":98.5},{"t":"2026-01-13T18:01:54","v":78.2},{"t":"2026-01-13T18:02:48","v":98.3},{"t":"2026-01-13T18:03:54","v":82},{"t":"2026-01-13T18:04:42","v":69.7},{"t":"2026-01-13T18:05:54","v":96.6},{"t":"2026-01-13T18:06:54","v":98},{"t":"2026-01-13T18:08:00","v":75},{"t":"2026-01-13T18:09:12","v":84.8},{"t":"2026-01-13T18:10:12","v":96.2},{"t":"2026-01-13T18:24:30","v":34.4},{"t":"2026-01-13T18:25:48","v":38},{"t":"2026-01-13T18:27:00","v":36.9},{"t":"2026-01-13T18:27:48","v":71.8}
]},
"encoding": {
 "x": {"field": "t", "type": "temporal",
  "scale": {"nice": false, "domain": [{"year": 2026, "month": 1, "date": 13, "hours": 0, "minutes": 0}, {"year": 2026, "month": 1, "date": 13, "hours": 18, "minutes": 28}]},
  "axis": {"title": null, "grid": true, "gridColor": "#d3d3d3", "domain": false, "ticks": false, "labelPadding": 7, "labelFontSize": 12, "labelColor": "#333333", "labelFlush": false, "labelOverlap": false,
   "values": [{"year": 2026, "month": 1, "date": 13, "hours": 0}, {"year": 2026, "month": 1, "date": 13, "hours": 2}, {"year": 2026, "month": 1, "date": 13, "hours": 4}, {"year": 2026, "month": 1, "date": 13, "hours": 6}, {"year": 2026, "month": 1, "date": 13, "hours": 8}, {"year": 2026, "month": 1, "date": 13, "hours": 10}, {"year": 2026, "month": 1, "date": 13, "hours": 12}, {"year": 2026, "month": 1, "date": 13, "hours": 14}, {"year": 2026, "month": 1, "date": 13, "hours": 16}, {"year": 2026, "month": 1, "date": 13, "hours": 18}],
   "labelFontWeight": {"condition": {"test": "hours(datum.value) == 0", "value": "bold"}, "value": "normal"},
   "labelExpr": "hours(datum.value) == 0 ? 'Jan 13' : timeFormat(datum.value, '%-I:%M %p')"}},
 "y": {"field": "v", "type": "quantitative",
  "scale": {"domain": [20, 100], "nice": false, "zero": false},
  "axis": {"title": "%", "titleAngle": 0, "titleAlign": "left", "titleBaseline": "alphabetic", "titleX": 0, "titleY": -9, "titleFontSize": 12, "titleFontWeight": "normal", "titleColor": "#333333",
   "values": [20, 30, 40, 50, 60, 70, 80, 90, 100], "grid": true, "gridColor": "#dcdcdc", "domain": false, "ticks": true, "tickSize": 4, "tickColor": "#dcdcdc", "labelPadding": 2, "labelFontSize": 12, "labelColor": "#333333"}}
},
"layer": [
{"mark": {"type": "line", "interpolate": "step-after", "color": "#4a7bea", "strokeWidth": 1.5}},
{"data": {"values": [{"t": "2026-01-13T11:36:26", "v": 77, "prev": 47.5, "title": "January 13, 2026 at 11:36:26 AM", "label": "nargothrond CPU usage: 77%"}]},
 "layer": [
  {"mark": {"type": "rule", "color": "#1c9de8", "strokeDash": [3, 3], "strokeWidth": 1}, "encoding": {"y": {"datum": 20}, "y2": {"datum": 100}}},
  {"mark": {"type": "rule", "color": "#2aa8f0", "strokeWidth": 1.6}, "encoding": {"y": {"field": "prev", "type": "quantitative"}, "y2": {"field": "v"}}},
  {"mark": {"type": "point", "filled": true, "opacity": 1, "size": 36, "color": "#3b6de0"}},
  {"mark": {"type": "rect", "width": 201, "height": 62, "xOffset": 121, "yOffset": 164, "fill": "#000000", "opacity": 0.04, "cornerRadius": 7}},
  {"mark": {"type": "rect", "width": 198, "height": 59, "xOffset": 121, "yOffset": 163, "fill": "#000000", "opacity": 0.05, "cornerRadius": 5}},
  {"mark": {"type": "rect", "width": 195, "height": 56, "xOffset": 121, "yOffset": 162, "fill": "#ffffff", "stroke": "#e6e6e6", "strokeWidth": 0.5, "cornerRadius": 4}},
  {"mark": {"type": "text", "align": "left", "baseline": "alphabetic", "dx": 33.6, "dy": 158, "fontSize": 12, "color": "#202124"}, "encoding": {"text": {"field": "title"}}},
  {"mark": {"type": "point", "filled": true, "opacity": 1, "size": 70, "color": "#3f66d9", "xOffset": 38.3, "yOffset": 171.7}},
  {"mark": {"type": "text", "align": "left", "baseline": "alphabetic", "dx": 50.9, "dy": 175.7, "fontSize": 12, "color": "#202124"}, "encoding": {"text": {"field": "label"}}}
 ]}
]
}
